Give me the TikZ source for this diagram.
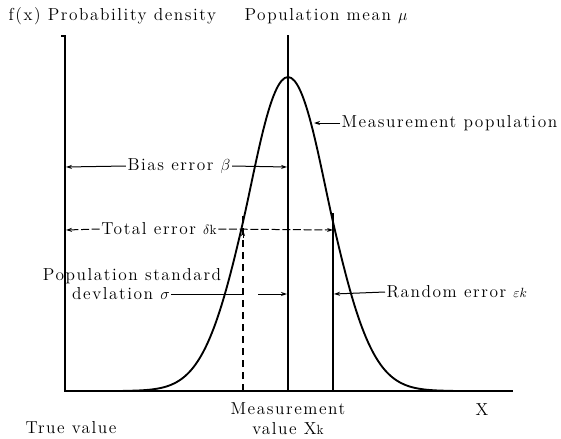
\documentclass[tikz,border=0pt]{standalone}
\usepackage{fontspec}
\setmainfont{Latin Modern Roman}[LetterSpace=9]
\usetikzlibrary{arrows.meta}
\newcommand{\smallpart}[1]{{\fontsize{10}{12}\selectfont #1}}
\tikzset{
  lbl/.style={inner sep=1pt, font=\fontsize{13}{15}\selectfont},
  axisline/.style={line width=1.6pt},
  curveline/.style={line width=1.4pt},
  leader/.style={line width=0.75pt},
  tipped/.style={leader, -{Stealth[length=4.5pt,width=3pt]}},
  dtipped/.style={tipped, dash pattern=on 6pt off 2pt},
  vdash/.style={line width=1.4pt, dash pattern=on 5.2pt off 3.8pt},
}
\begin{document}
\begin{tikzpicture}[x=0.75pt,y=-0.75pt]
\useasboundingbox (0,0) rectangle (561,439);
% coordinates
\coordinate (ytop) at (65,36);
\coordinate (O) at (65,391);
\coordinate (xend) at (513,391);
\coordinate (mtop) at (288,35);
\coordinate (mbot) at (288,391);
\coordinate (peak) at (288,77);
\coordinate (jL) at (242,226.3);
\coordinate (jR) at (334,226.3);
\coordinate (dbot) at (243,391);
\coordinate (dtop) at (243,214);
\coordinate (dmark) at (243,230);
\coordinate (dmarkS) at (243,238);
\coordinate (rbot) at (333,391);
\coordinate (rtop) at (333,213);
\coordinate (mp) at (314,123);
\coordinate (biasL) at (66,167);
\coordinate (biasR) at (287,167);
\coordinate (totL) at (66,230);
\coordinate (totR) at (333,230);
\coordinate (sigR) at (243,294);
\coordinate (raS) at (258,294);
\coordinate (raE) at (287,294);
\coordinate (rrE) at (334,294);
% axes
\draw[axisline] (61,36) -- (ytop) -- (O) -- (xend);
\draw[axisline] (mtop) -- (mbot);
% curve: gaussian tails, pointed top
\draw[curveline, line join=round]
  plot[domain=-165:-46, samples=60, variable=\t] ({288+\t},{391-300*exp(-0.5*(\t/42)^2)})
  -- (jL) .. controls (256,166.1) and (270,77) .. (peak)
  .. controls (306,77) and (320,166.1) .. (jR)
  -- plot[domain=46:165, samples=60, variable=\t] ({288+\t},{391-300*exp(-0.5*(\t/42)^2)});
% measurement value lines
\draw[vdash] (dbot) -- (dtop);
\draw[tipped] (dmarkS) -- (dmark);
\draw[curveline] (rbot) -- (rtop);
% texts
\node[lbl, anchor=west] (fx) at (7,16) {f(x) Probability density};
\node[lbl, anchor=west] (pm) at (243,16) {Population mean $\mu$};
\node[lbl, anchor=west] (mpop) at (340,123) {Measurement population};
\node[lbl] (bias) at (179,166) {Bias error $\beta$};
\node[lbl] (tot) at (159,229) {Total error \smallpart{$\delta$k}};
\node[lbl] (ps1) at (132,276) {Population standard};
\node[lbl] (ps2) at (121,294) {devlation $\sigma$};
\node[lbl, anchor=west] (re) at (385,292) {Random error \smallpart{$\varepsilon k$}};
\node[lbl, align=center] (mv) at (288,419) {Measurement\\value X\smallpart{k}};
\node[lbl] (X) at (482,410) {X};
\node[lbl] (tv) at (71,428) {True value};
% connectors
\draw[tipped] (mpop.west) -- (mp);
\draw[tipped] (bias.west) -- (biasL);
\draw[tipped] (bias.east) -- (biasR);
\draw[dtipped] (tot.west) -- (totL);
\draw[dtipped] (tot.east) -- (totR);
\draw[leader] (ps2.east) -- (sigR);
\draw[tipped] (raS) -- (raE);
\draw[tipped] (re.west) -- (rrE);
\end{tikzpicture}
\end{document}
